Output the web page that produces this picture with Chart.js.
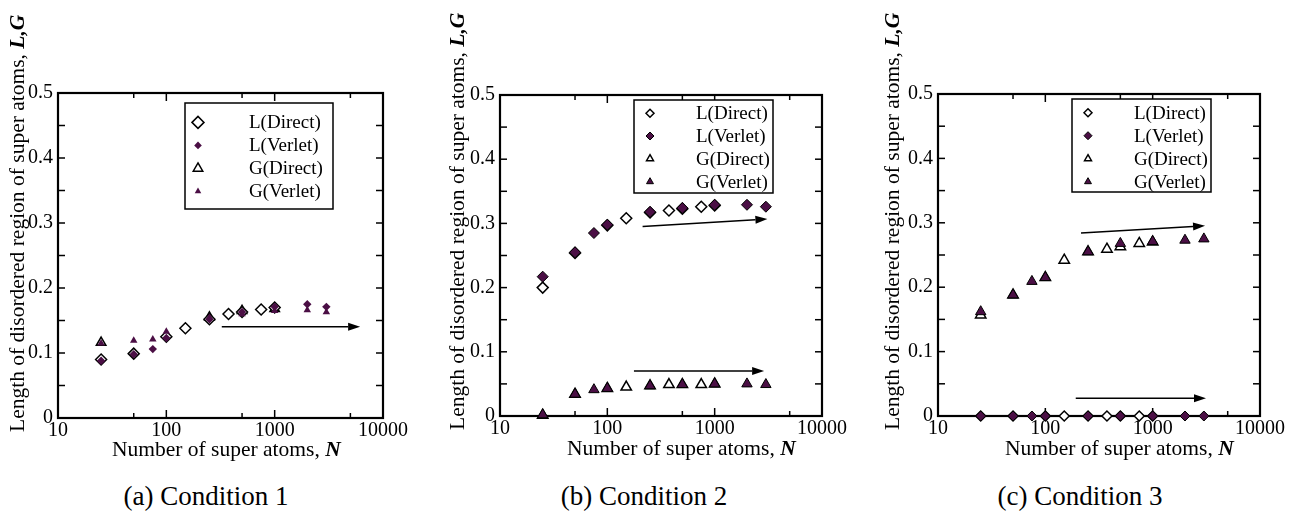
<!DOCTYPE html>
<html lang="en">
<head>
<meta charset="UTF-8">
<title>Length of disordered region vs number of super atoms</title>
<style>
  body { margin: 0; background: #fff; }
  #wrap { position: relative; width: 1296px; height: 515px; overflow: hidden; background: #fff; }
  .panel { position: absolute; top: 0; }
  .caption {
    position: absolute; top: 481px;
    font-family: "Liberation Serif", "Times New Roman", serif;
    font-size: 27px; color: #000; white-space: nowrap;
    transform: translateX(-50%);
  }
</style>
<script src="https://cdn.jsdelivr.net/npm/chart.js"></script>
</head>
<body>
<div id="wrap">
  <canvas id="c1" class="panel" width="430" height="470" style="left:0px"></canvas>
  <canvas id="c2" class="panel" width="430" height="470" style="left:430px"></canvas>
  <canvas id="c3" class="panel" width="436" height="470" style="left:860px"></canvas>
  <div class="caption" style="left:206px">(a) Condition 1</div>
  <div class="caption" style="left:644px">(b) Condition 2</div>
  <div class="caption" style="left:1080px">(c) Condition 3</div>
</div>
<script>
const serif = '"Liberation Serif", "Times New Roman", serif';
const purple = '#4b0f45';

// number of super atoms N
const nDirect = [25, 50, 100, 150, 250, 375, 500, 750, 1000];
const nVerlet = [25, 50, 75, 100, 250, 500, 1000, 2000, 3000];
const nGDirect1 = [25, 250, 500, 1000];

// (a) Condition 1
const lDirect1 = [0.090, 0.099, 0.125, 0.138, 0.152, 0.160, 0.163, 0.167, 0.170];
const lVerlet1 = [0.088, 0.098, 0.106, 0.123, 0.152, 0.163, 0.171, 0.175, 0.171];
const gDirect1 = [0.116, 0.155, 0.165, 0.168];
const gVerlet1 = [0.115, 0.119, 0.121, 0.133, 0.154, 0.160, 0.165, 0.166, 0.163];

// (b) Condition 2
const lDirect2 = [0.200, 0.254, 0.297, 0.308, 0.317, 0.320, 0.323, 0.326, 0.328];
const lVerlet2 = [0.217, 0.255, 0.285, 0.298, 0.318, 0.324, 0.329, 0.329, 0.326];
const gDirect2 = [0.001, 0.034, 0.043, 0.045, 0.047, 0.049, 0.049, 0.049, 0.050];
const gVerlet2 = [0.002, 0.034, 0.041, 0.043, 0.047, 0.049, 0.050, 0.050, 0.049];

// (c) Condition 3
const lDirect3 = [0, 0, 0, 0, 0, 0, 0, 0, 0];
const lVerlet3 = [0, 0, 0, 0, 0, 0, 0, 0, 0];
const gDirect3 = [0.157, 0.188, 0.215, 0.242, 0.255, 0.259, 0.263, 0.268, 0.270];
const gVerlet3 = [0.162, 0.188, 0.209, 0.215, 0.255, 0.268, 0.271, 0.273, 0.275];

// arrows: [N from, value from, N to, value to]
const arrows1 = [[325, 0.1405, 6150, 0.1405]];
const arrows2 = [[213, 0.295, 3100, 0.307], [177, 0.070, 2890, 0.070]];
const arrows3 = [[215, 0.284, 3076, 0.2955], [192, 0.0275, 3140, 0.0275]];

const xTickValues = [10, 100, 1000, 10000];
const xMinorTicks = [50, 500, 5000];
const yTickValues = [0, 0.1, 0.2, 0.3, 0.4, 0.5];
const yTickMarks = [0.05, 0.1, 0.15, 0.2, 0.25, 0.3, 0.35, 0.4, 0.45];
const legendLabels = ['L(Direct)', 'L(Verlet)', 'G(Direct)', 'G(Verlet)'];

function pts(xs, ys) {
  return xs.map((x, i) => ({ x: x, y: ys[i] }));
}

function drawMarker(ctx, style, x, y, r) {
  ctx.beginPath();
  if (style === 'rectRot') {
    ctx.moveTo(x - r, y); ctx.lineTo(x, y - r); ctx.lineTo(x + r, y); ctx.lineTo(x, y + r);
  } else {
    const s = Math.sin(2 * Math.PI / 3) * r;
    ctx.moveTo(x, y - r); ctx.lineTo(x + s, y + r / 2); ctx.lineTo(x - s, y + r / 2);
  }
  ctx.closePath();
}

function line(ctx, x1, y1, x2, y2) {
  ctx.beginPath(); ctx.moveTo(x1, y1); ctx.lineTo(x2, y2); ctx.stroke();
}

// draw mixed regular + bold italic text starting at (0,0) of current transform
function mixedText(ctx, plain, bold, size) {
  ctx.font = size + 'px ' + serif;
  ctx.fillText(plain, 0, 0);
  const w = ctx.measureText(plain).width;
  ctx.font = 'italic bold ' + size + 'px ' + serif;
  ctx.fillText(bold, w, 0);
}

function makePanel(id, data, arrows, lay) {
  const styles = [
    { style: 'rectRot', fill: '#fff', border: '#000', bw: 1.5, r: lay.rD, order: 2 },
    { style: 'rectRot', fill: purple, border: '#000', bw: lay.vBorder, r: lay.rV, order: 1 },
    { style: 'triangle', fill: '#fff', border: '#000', bw: 1.5, r: lay.rTD, order: 2 },
    { style: 'triangle', fill: purple, border: '#000', bw: lay.vBorder, r: lay.rTV, order: 1 }
  ];

  const datasets = data.map((d, i) => ({
    label: legendLabels[i],
    data: d,
    pointStyle: styles[i].style,
    pointRadius: styles[i].r,
    pointHoverRadius: styles[i].r,
    pointBackgroundColor: styles[i].fill,
    pointBorderColor: styles[i].border,
    pointBorderWidth: styles[i].bw,
    order: styles[i].order,
    clip: false
  }));

  const framePlugin = {
    id: 'frame',
    beforeDatasetsDraw(chart) {
      const { ctx, chartArea: a, scales: { x, y } } = chart;
      ctx.save();
      ctx.strokeStyle = '#000';
      ctx.lineWidth = 1.5;
      yTickMarks.forEach(v => {
        const py = y.getPixelForValue(v);
        line(ctx, a.left, py, a.left + 7, py);
        line(ctx, a.right, py, a.right - 7, py);
      });
      xTickValues.forEach(v => {
        const px = x.getPixelForValue(v);
        line(ctx, px, a.bottom, px, a.bottom - 8);
        line(ctx, px, a.top, px, a.top + 8);
      });
      xMinorTicks.forEach(v => {
        const px = x.getPixelForValue(v);
        line(ctx, px, a.bottom, px, a.bottom - 5);
        line(ctx, px, a.top, px, a.top + 5);
      });
      ctx.lineWidth = 2.2;
      ctx.strokeRect(a.left, a.top, a.right - a.left, a.bottom - a.top);
      ctx.restore();
    },
    afterDatasetsDraw(chart) {
      const { ctx, chartArea: a, scales: { x, y } } = chart;
      ctx.save();
      // arrows
      ctx.strokeStyle = '#000';
      ctx.fillStyle = '#000';
      ctx.lineWidth = 1.5;
      arrows.forEach(ar => {
        const x1 = x.getPixelForValue(ar[0]), y1 = y.getPixelForValue(ar[1]);
        const x2 = x.getPixelForValue(ar[2]), y2 = y.getPixelForValue(ar[3]);
        const ang = Math.atan2(y2 - y1, x2 - x1);
        const hl = 12, hw = 4;
        const bx = x2 - Math.cos(ang) * hl, by = y2 - Math.sin(ang) * hl;
        line(ctx, x1, y1, bx, by);
        ctx.beginPath();
        ctx.moveTo(x2, y2);
        ctx.lineTo(bx + Math.sin(ang) * hw, by - Math.cos(ang) * hw);
        ctx.lineTo(bx - Math.sin(ang) * hw, by + Math.cos(ang) * hw);
        ctx.closePath();
        ctx.fill();
      });
      // legend
      const lx = a.left + lay.legend[0], ly = a.top + lay.legend[1];
      ctx.fillStyle = '#fff';
      ctx.fillRect(lx, ly, lay.legend[2], lay.legend[3]);
      ctx.lineWidth = 1.5;
      ctx.strokeRect(lx, ly, lay.legend[2], lay.legend[3]);
      ctx.font = '19px ' + serif;
      ctx.textBaseline = 'middle';
      legendLabels.forEach((t, i) => {
        const ry = ly + lay.rows[i];
        const s = styles[i];
        drawMarker(ctx, s.style, lx + lay.markerX, ry, lay.legendR[i]);
        ctx.fillStyle = s.fill;
        ctx.fill();
        if (s.bw > 0 || s.fill === '#fff') {
          ctx.lineWidth = s.fill === '#fff' ? 1.5 : 1;
          ctx.strokeStyle = '#000';
          ctx.stroke();
        }
        ctx.fillStyle = '#000';
        ctx.fillText(t, lx + lay.textX, ry + 1);
      });
      ctx.restore();
    },
    afterDraw(chart) {
      const { ctx, chartArea: a } = chart;
      ctx.save();
      ctx.fillStyle = '#000';
      ctx.textBaseline = 'alphabetic';
      ctx.textAlign = 'left';
      // x title
      ctx.save();
      ctx.translate(a.left + lay.xTitle[0], a.bottom + lay.xTitle[1]);
      mixedText(ctx, 'Number of super atoms, ', 'N', 21.5);
      ctx.restore();
      // y title
      ctx.save();
      ctx.translate(lay.yTitle[0], lay.yTitle[1]);
      ctx.rotate(-Math.PI / 2);
      ctx.textBaseline = 'middle';
      mixedText(ctx, 'Length of disordered region of super atoms, ', 'L,G', 21.5);
      ctx.restore();
      ctx.restore();
    }
  };

  return new Chart(document.getElementById(id), {
    type: 'scatter',
    data: { datasets: datasets },
    options: {
      responsive: false,
      animation: false,
      devicePixelRatio: 1,
      layout: { padding: lay.padding },
      plugins: { legend: { display: false }, tooltip: { enabled: false } },
      scales: {
        x: {
          type: 'logarithmic',
          min: 10,
          max: 10000,
          grid: { display: false, drawTicks: false },
          border: { display: false },
          afterBuildTicks: s => { s.ticks = xTickValues.map(v => ({ value: v })); },
          afterFit: s => { s.height = 30; },
          ticks: {
            autoSkip: false, maxRotation: 0, padding: 1, color: '#000',
            font: { family: serif, size: 20 },
            callback: v => String(v)
          }
        },
        y: {
          min: 0,
          max: 0.5,
          grid: { display: false, drawTicks: false },
          border: { display: false },
          afterBuildTicks: s => { s.ticks = yTickValues.map(v => ({ value: v })); },
          afterFit: s => { s.width = 50; },
          ticks: {
            autoSkip: false, padding: 5, color: '#000',
            font: { family: serif, size: 20 },
            callback: v => (v === 0 ? '0' : v.toFixed(1))
          }
        }
      }
    },
    plugins: [framePlugin]
  });
}

makePanel('c1', [
  pts(nDirect, lDirect1), pts(nVerlet, lVerlet1), pts(nGDirect1, gDirect1), pts(nVerlet, gVerlet1)
], arrows1, {
  padding: { left: 8, top: 93, right: 47, bottom: 22 },
  rD: 5.5, rV: 4.2, rTD: 5.5, rTV: 4.3, vBorder: 0,
  legend: [127, 10, 148, 106], rows: [19.4, 42.4, 65.4, 88.4], markerX: 13, textX: 64,
  legendR: [6, 3.8, 5.5, 3.8],
  xTitle: [54, 38], yTitle: [18, 432]
});

makePanel('c2', [
  pts(nDirect, lDirect2), pts(nVerlet, lVerlet2), pts(nDirect, gDirect2), pts(nVerlet, gVerlet2)
], arrows2, {
  padding: { left: 20, top: 95, right: 38, bottom: 24 },
  rD: 5.5, rV: 5.5, rTD: 6, rTV: 6, vBorder: 1,
  legend: [134, 5, 139, 93], rows: [13.3, 36, 58.7, 81.7], markerX: 16, textX: 62,
  legendR: [4, 4, 4, 4],
  xTitle: [67, 39], yTitle: [28, 430]
});

makePanel('c3', [
  pts(nDirect, lDirect3), pts(nVerlet, lVerlet3), pts(nDirect, gDirect3), pts(nVerlet, gVerlet3)
], arrows3, {
  padding: { left: 28, top: 94, right: 36, bottom: 24 },
  rD: 5, rV: 5, rTD: 6, rTV: 6, vBorder: 1,
  legend: [134, 5, 139, 93], rows: [13.7, 36.7, 59.7, 82.7], markerX: 16, textX: 62,
  legendR: [4, 4, 4, 4],
  xTitle: [67, 39], yTitle: [33, 430]
});
</script>
</body>
</html>
